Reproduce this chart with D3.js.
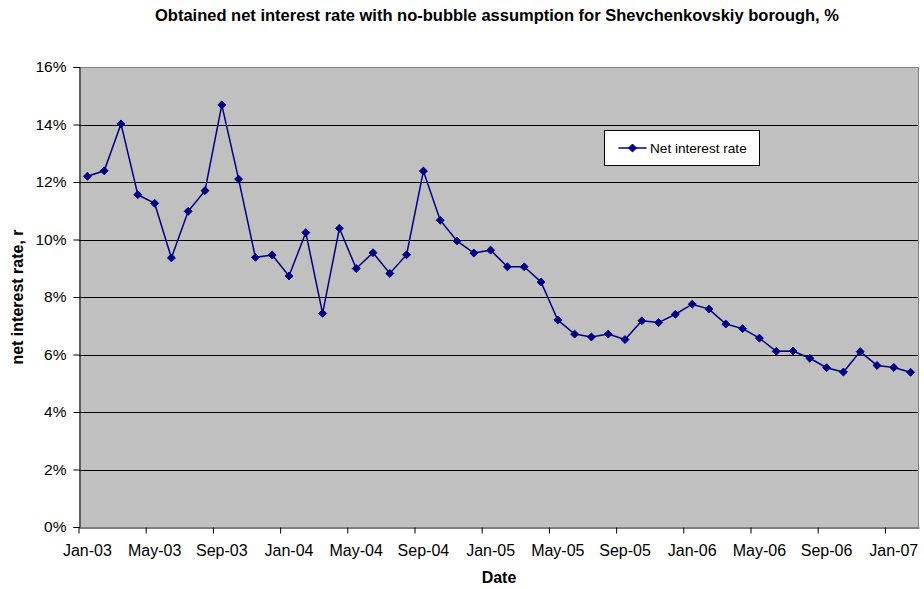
<!DOCTYPE html>
<html>
<head>
<meta charset="utf-8">
<script src="https://cdn.jsdelivr.net/npm/d3@7"></script>
<style>
  html, body { margin: 0; padding: 0; background: #ffffff; }
  svg { display: block; font-family: "Liberation Sans", Arial, sans-serif; }
</style>
</head>
<body>
<svg id="chart" width="924" height="589"></svg>
<script>
// Monthly categories, Jan-03 through Feb-07
const months = ["Jan","Feb","Mar","Apr","May","Jun","Jul","Aug","Sep","Oct","Nov","Dec"];
const categories = [];
for (let yr = 3; yr <= 7; yr++) {
  for (let m = 0; m < 12; m++) {
    if (yr === 7 && m > 1) break;
    categories.push(months[m] + "-0" + yr);
  }
}

// Net interest rate, % (one value per month)
const netInterestRate = [
  12.20, 12.39, 14.02, 11.56, 11.26, 9.36, 10.98, 11.70, 14.68, 12.10,
  9.38, 9.46, 8.73, 10.24, 7.43, 10.39, 8.99, 9.54, 8.82, 9.47,
  12.38, 10.67, 9.95, 9.53, 9.63, 9.05, 9.05, 8.52, 7.20, 6.71,
  6.61, 6.71, 6.52, 7.17, 7.11, 7.40, 7.75, 7.58, 7.06, 6.90,
  6.57, 6.11, 6.12, 5.87, 5.54, 5.39, 6.10, 5.62, 5.55, 5.38
];

const yTicks = [0, 2, 4, 6, 8, 10, 12, 14, 16];
const xTickLabels = categories.filter((d, i) => i % 4 === 0);

const data = categories.map((c, i) => ({ cat: c, value: netInterestRate[i] }));

const svg = d3.select("#chart");
const plot = { left: 79, right: 919, top: 67, bottom: 527 };

const x = d3.scaleBand().domain(categories).range([plot.left, plot.right]).padding(0);
const y = d3.scaleLinear().domain([0, 16]).range([plot.bottom, plot.top]);
const bw = x.bandwidth();

// Plot area
svg.append("rect")
  .attr("x", plot.left).attr("y", plot.top)
  .attr("width", plot.right - plot.left).attr("height", plot.bottom - plot.top)
  .attr("fill", "#c0c0c0");

// Horizontal gridlines
svg.append("g").selectAll("line")
  .data(yTicks.filter(t => t > 0 && t < 16))
  .join("line")
  .attr("x1", plot.left).attr("x2", plot.right)
  .attr("y1", d => Math.round(y(d)) + 0.5).attr("y2", d => Math.round(y(d)) + 0.5)
  .attr("stroke", "#000").attr("stroke-width", 1);

// Plot border (top and right)
svg.append("path")
  .attr("d", `M${plot.left},${plot.top + 0.5}H${plot.right - 0.5}V${plot.bottom}`)
  .attr("fill", "none").attr("stroke", "#808080").attr("stroke-width", 1);

// Y axis
const yAxis = d3.axisLeft(y)
  .tickValues(yTicks)
  .tickFormat(d => d + "%")
  .tickSize(6)
  .tickPadding(7);
const gy = svg.append("g")
  .attr("transform", `translate(${plot.left + 0.5},0)`)
  .call(yAxis);
gy.select(".domain").attr("stroke", "#000");
gy.selectAll(".tick line").attr("stroke", "#000");
gy.selectAll(".tick text")
  .attr("font-size", 15.5).attr("fill", "#000")
  .attr("font-family", "Liberation Sans, Arial, sans-serif");

// X axis: tick marks at category boundaries, labels at category centres
const xAxis = d3.axisBottom(x)
  .tickValues(xTickLabels)
  .tickSize(6)
  .tickPadding(11)
  .tickSizeOuter(0);
const gx = svg.append("g")
  .attr("transform", `translate(0,${plot.bottom + 0.5})`)
  .call(xAxis);
gx.select(".domain").attr("stroke", "#000");
gx.selectAll(".tick line")
  .attr("stroke", "#000")
  .attr("transform", `translate(${-bw / 2},0)`);
gx.selectAll(".tick text")
  .attr("font-size", 16).attr("fill", "#000")
  .attr("font-family", "Liberation Sans, Arial, sans-serif");

// Series line
const line = d3.line()
  .x(d => x(d.cat) + bw / 2)
  .y(d => y(d.value));
svg.append("path")
  .datum(data)
  .attr("d", line)
  .attr("fill", "none")
  .attr("stroke", "#000080")
  .attr("stroke-width", 1.5);

// Diamond markers
const diamond = d3.symbol().type(d3.symbolDiamond2).size(40);
svg.append("g").selectAll("path")
  .data(data)
  .join("path")
  .attr("d", diamond)
  .attr("transform", d => `translate(${x(d.cat) + bw / 2},${y(d.value)})`)
  .attr("fill", "#000080")
  .attr("stroke", "#000080")
  .attr("stroke-width", 1);

// Title
svg.append("text")
  .attr("x", 497).attr("y", 21)
  .attr("text-anchor", "middle")
  .attr("font-size", 16.5).attr("font-weight", "bold")
  .text("Obtained net interest rate with no-bubble assumption for Shevchenkovskiy borough, %");

// Axis titles
svg.append("text")
  .attr("x", 499).attr("y", 583)
  .attr("text-anchor", "middle")
  .attr("font-size", 16).attr("font-weight", "bold")
  .text("Date");

svg.append("text")
  .attr("transform", `translate(23,${(plot.top + plot.bottom) / 2}) rotate(-90)`)
  .attr("text-anchor", "middle")
  .attr("font-size", 16).attr("font-weight", "bold")
  .text("net interest rate, r");

// Legend
const legend = svg.append("g").attr("transform", "translate(604.5,130.5)");
legend.append("rect")
  .attr("width", 155).attr("height", 35)
  .attr("fill", "#fff").attr("stroke", "#000").attr("stroke-width", 1);
legend.append("line")
  .attr("x1", 14).attr("x2", 42).attr("y1", 17.5).attr("y2", 17.5)
  .attr("stroke", "#000080").attr("stroke-width", 1.5);
legend.append("path")
  .attr("d", diamond)
  .attr("transform", "translate(28,17.5)")
  .attr("fill", "#000080").attr("stroke", "#000080");
legend.append("text")
  .attr("x", 45.5).attr("y", 22.8)
  .attr("font-size", 13.6)
  .text("Net interest rate");
</script>
</body>
</html>
